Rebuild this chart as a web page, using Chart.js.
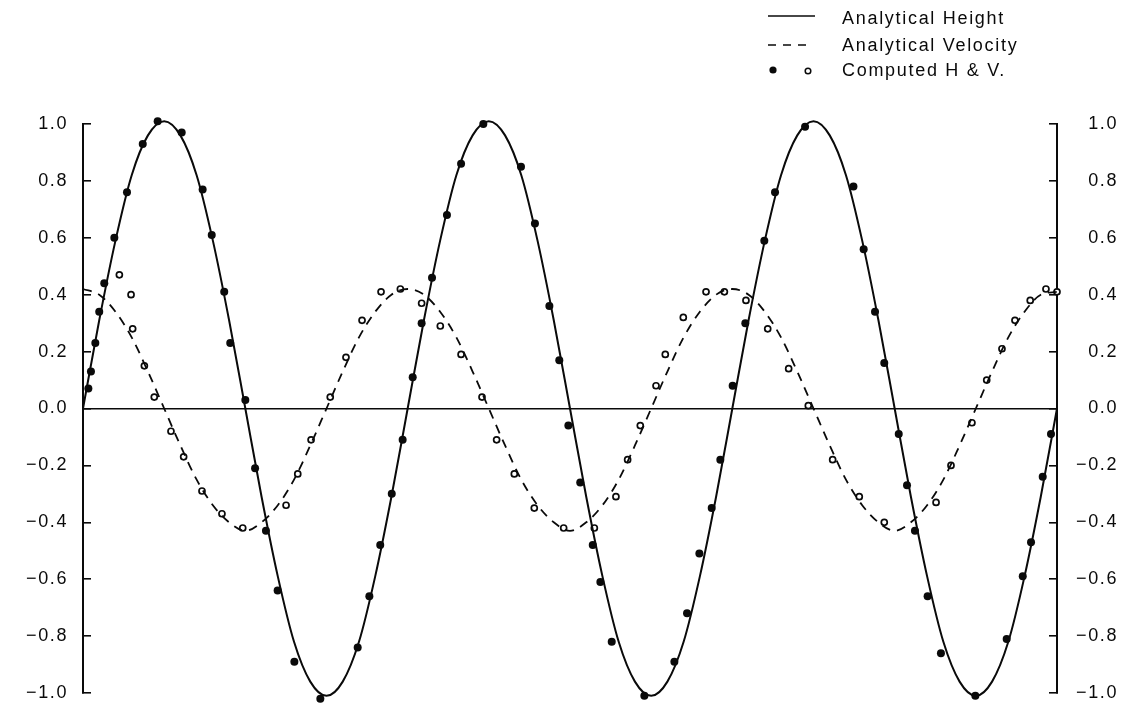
<!DOCTYPE html>
<html lang="en">
<head>
  <meta charset="UTF-8" />
  <title>Analytical and Computed Height / Velocity</title>
  <script src="https://cdn.jsdelivr.net/npm/chart.js"></script>
  <style>
    html, body {
      margin: 0;
      padding: 0;
      background: #fff;
    }
    canvas {
      display: block;
    }
  </style>
</head>
<body>
  <canvas id="waveChart" width="1134" height="713"></canvas>

  <script>
    // time runs over three full periods (0..60), the original has no x labels
    const timeAnalytical = [
      0, 1, 2, 3, 4, 5, 6, 7, 8, 9, 10, 11, 12, 13, 14, 15, 16, 17, 18, 19,
      20, 21, 22, 23, 24, 25, 26, 27, 28, 29, 30, 31, 32, 33, 34, 35, 36, 37, 38, 39,
      40, 41, 42, 43, 44, 45, 46, 47, 48, 49, 50, 51, 52, 53, 54, 55, 56, 57, 58, 59, 60
    ];
    const heightAnalytical = [
      0, 0.31, 0.59, 0.82, 0.96, 1.01, 0.96, 0.82, 0.59, 0.31, 0, -0.31, -0.59, -0.82, -0.96, -1.01, -0.96, -0.82, -0.59, -0.31,
      0, 0.31, 0.59, 0.82, 0.96, 1.01, 0.96, 0.82, 0.59, 0.31, 0, -0.31, -0.59, -0.82, -0.96, -1.01, -0.96, -0.82, -0.59, -0.31,
      0, 0.31, 0.59, 0.82, 0.96, 1.01, 0.96, 0.82, 0.59, 0.31, 0, -0.31, -0.59, -0.82, -0.96, -1.01, -0.96, -0.82, -0.59, -0.31, 0
    ];
    const velocityAnalytical = [
      0.42, 0.40, 0.34, 0.25, 0.13, 0, -0.13, -0.25, -0.34, -0.40, -0.43, -0.40, -0.34, -0.25, -0.13, 0, 0.13, 0.25, 0.34, 0.40,
      0.42, 0.40, 0.34, 0.25, 0.13, 0, -0.13, -0.25, -0.34, -0.40, -0.43, -0.40, -0.34, -0.25, -0.13, 0, 0.13, 0.25, 0.34, 0.40,
      0.42, 0.40, 0.34, 0.25, 0.13, 0, -0.13, -0.25, -0.34, -0.40, -0.43, -0.40, -0.34, -0.25, -0.13, 0, 0.13, 0.25, 0.34, 0.40, 0.41
    ];

    const timeComputedH = [
      0.33, 0.49, 0.76, 1.00, 1.31, 1.93, 2.71, 3.68, 4.60, 6.08, 7.37, 7.93, 8.70, 9.07, 10.00,
      10.60, 11.27, 11.99, 13.02, 14.62, 16.92, 17.64, 18.31, 19.02, 19.69, 20.31, 20.86, 21.50, 22.42, 23.29,
      24.66, 26.98, 27.84, 28.73, 29.34, 29.90, 30.63, 31.40, 31.87, 32.57, 34.58, 36.43, 37.21, 37.97, 38.73,
      39.26, 40.02, 40.80, 41.97, 42.63, 44.48, 47.46, 48.09, 48.79, 49.36, 50.25, 50.76, 51.25, 52.03, 52.85,
      54.97, 56.90, 57.89, 58.40, 59.12, 59.63
    ];
    const heightComputed = [
      0.07, 0.13, 0.23, 0.34, 0.44, 0.60, 0.76, 0.93, 1.01, 0.97, 0.77, 0.61, 0.41, 0.23, 0.03,
      -0.21, -0.43, -0.64, -0.89, -1.02, -0.84, -0.66, -0.48, -0.30, -0.11, 0.11, 0.30, 0.46, 0.68, 0.86,
      1.00, 0.85, 0.65, 0.36, 0.17, -0.06, -0.26, -0.48, -0.61, -0.82, -1.01, -0.89, -0.72, -0.51, -0.35,
      -0.18, 0.08, 0.30, 0.59, 0.76, 0.99, 0.78, 0.56, 0.34, 0.16, -0.09, -0.27, -0.43, -0.66, -0.86,
      -1.01, -0.81, -0.59, -0.47, -0.24, -0.09
    ];

    const timeComputedV = [
      2.24, 2.96, 3.06, 3.78, 4.39, 5.42, 6.20, 7.33, 8.56, 9.84, 12.51, 13.23, 14.05, 15.23, 16.20,
      17.19, 18.36, 19.55, 20.86, 22.01, 23.29, 24.58, 25.48, 26.57, 27.80, 29.61, 31.50, 32.83, 33.55, 34.33,
      35.30, 35.87, 36.98, 38.38, 39.51, 40.84, 42.18, 43.47, 44.68, 46.18, 47.82, 49.36, 52.55, 53.47, 54.76,
      55.67, 56.61, 57.41, 58.35, 59.32, 60.00
    ];
    const velocityComputed = [
      0.47, 0.40, 0.28, 0.15, 0.04, -0.08, -0.17, -0.29, -0.37, -0.42, -0.34, -0.23, -0.11, 0.04, 0.18,
      0.31, 0.41, 0.42, 0.37, 0.29, 0.19, 0.04, -0.11, -0.23, -0.35, -0.42, -0.42, -0.31, -0.18, -0.06,
      0.08, 0.19, 0.32, 0.41, 0.41, 0.38, 0.28, 0.14, 0.01, -0.18, -0.31, -0.40, -0.33, -0.20, -0.05,
      0.10, 0.21, 0.31, 0.38, 0.42, 0.41
    ];

    const yTickValues = [-1.0, -0.8, -0.6, -0.4, -0.2, 0.0, 0.2, 0.4, 0.6, 0.8, 1.0];
    const legendLabels = ['Analytical Height', 'Analytical Velocity', 'Computed H & V.'];

    const ink = '#0a0a0a';
    const fontFamily = '"Liberation Sans", Arial, Helvetica, sans-serif';

    function pairs(xs, ys) {
      return xs.map((x, i) => ({ x: x, y: ys[i] }));
    }

    function fmtTick(v) {
      if (Math.abs(v) < 1e-9) return '0.0';
      return (v < 0 ? '\u2212' : '') + Math.abs(v).toFixed(1);
    }

    function setTicks(scale) {
      scale.ticks = yTickValues.map(v => ({ value: v }));
    }

    // fixed axis widths, and no extra end padding from the label padding
    function fixWidth(w) {
      return s => {
        s.width = w;
        s.paddingTop = 0;
        s.paddingBottom = 0;
      };
    }

    // the printed look has wide letter spacing
    const spacing = {
      id: 'spacing',
      beforeDraw(chart) {
        chart.ctx.letterSpacing = '1.6px';
      }
    };

    // legend in the top right corner, drawn by hand (two markers on the last row)
    const cornerLegend = {
      id: 'cornerLegend',
      afterDraw(chart) {
        const c = chart.ctx;
        c.save();
        c.font = '18px ' + fontFamily;
        c.letterSpacing = '1.7px';
        c.fillStyle = ink;
        c.strokeStyle = ink;
        c.textBaseline = 'middle';

        // solid line
        c.lineWidth = 1.6;
        c.beginPath();
        c.moveTo(768, 16);
        c.lineTo(815, 16);
        c.stroke();
        c.fillText(legendLabels[0], 842, 19);

        // dashed line
        c.setLineDash([8, 7]);
        c.beginPath();
        c.moveTo(768, 45);
        c.lineTo(813, 45);
        c.stroke();
        c.setLineDash([]);
        c.fillText(legendLabels[1], 842, 46);

        // filled + open marker
        c.beginPath();
        c.arc(773, 70, 3.6, 0, Math.PI * 2);
        c.fill();
        c.beginPath();
        c.fillStyle = '#fff';
        c.arc(808, 71, 2.8, 0, Math.PI * 2);
        c.fill();
        c.lineWidth = 1.5;
        c.stroke();
        c.fillStyle = ink;
        c.fillText(legendLabels[2], 842, 71);
        c.restore();
      }
    };

    const ctx = document.getElementById('waveChart').getContext('2d');
    new Chart(ctx, {
      type: 'line',
      data: {
        datasets: [
          {
            label: 'Analytical Height',
            data: pairs(timeAnalytical, heightAnalytical),
            borderColor: ink,
            borderWidth: 2,
            pointRadius: 0,
            cubicInterpolationMode: 'monotone',
            clip: false
          },
          {
            label: 'Analytical Velocity',
            data: pairs(timeAnalytical, velocityAnalytical),
            borderColor: ink,
            borderWidth: 1.8,
            borderDash: [9, 7],
            pointRadius: 0,
            cubicInterpolationMode: 'monotone',
            clip: false
          },
          {
            label: 'Computed H',
            data: pairs(timeComputedH, heightComputed),
            showLine: false,
            pointRadius: 4,
            pointHoverRadius: 10,
            pointBackgroundColor: ink,
            pointBorderColor: ink,
            pointBorderWidth: 0,
            clip: false
          },
          {
            label: 'Computed V',
            data: pairs(timeComputedV, velocityComputed),
            showLine: false,
            pointRadius: 3,
            pointHoverRadius: 10,
            pointBackgroundColor: '#fff',
            pointBorderColor: ink,
            pointBorderWidth: 1.7,
            clip: false
          }
        ]
      },
      options: {
        responsive: false,
        animation: false,
        events: [],
        layout: {
          padding: { top: 124, bottom: 20, left: 0, right: 16 }
        },
        plugins: {
          legend: { display: false },
          tooltip: { enabled: false }
        },
        scales: {
          x: {
            type: 'linear',
            min: 0,
            max: 60,
            display: false
          },
          y: {
            position: 'left',
            min: -1,
            max: 1,
            afterBuildTicks: setTicks,
            afterFit: fixWidth(83),
            border: { display: true, color: ink, width: 2 },
            grid: {
              drawOnChartArea: true,
              color: c => (c.tick && Math.abs(c.tick.value) < 1e-9 ? ink : 'rgba(0,0,0,0)'),
              tickColor: ink,
              tickLength: -8,
              lineWidth: 1.6
            },
            ticks: {
              padding: 23,
              color: ink,
              font: { family: fontFamily, size: 18 },
              callback: fmtTick
            }
          },
          y2: {
            position: 'right',
            min: -1,
            max: 1,
            afterBuildTicks: setTicks,
            afterFit: fixWidth(61),
            border: { display: true, color: ink, width: 2 },
            grid: {
              drawOnChartArea: false,
              tickColor: ink,
              tickLength: -8,
              lineWidth: 1.6
            },
            ticks: {
              crossAlign: 'far',
              color: ink,
              font: { family: fontFamily, size: 18 },
              callback: fmtTick
            }
          }
        }
      },
      plugins: [spacing, cornerLegend]
    });
  </script>
</body>
</html>
